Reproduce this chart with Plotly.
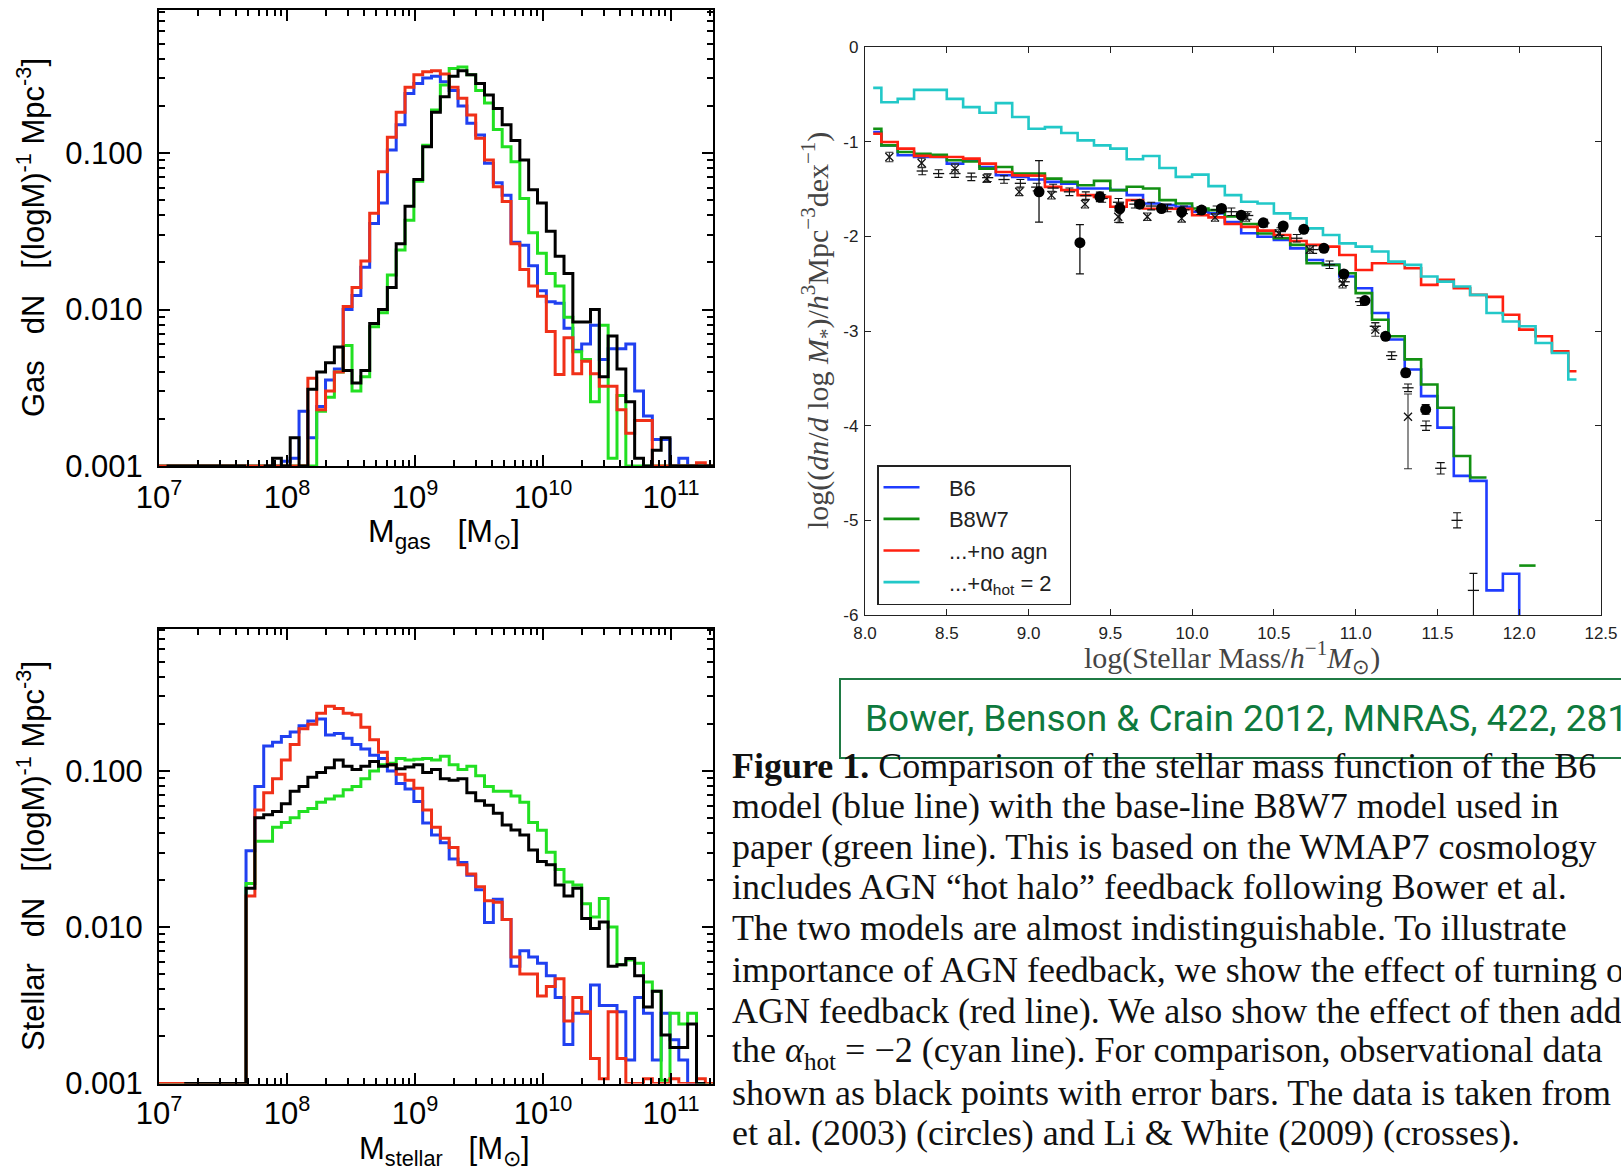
import plotly.graph_objects as go

W, H = 1621, 1175

# ---------------- Left panels: histograms, values are log10(dN) ----------------
BIN0 = 6.99      # log10 M of the first bin edge
BINW = 0.069     # bin width in dex

gas_blue = [
    -3, -3, -3, -3, -3, -3, -3, -3,
    -3, -3, -3, -3, -3, -3, -2.97, -2.95,
    -2.65, -2.82, -2.62, -2.45, -2.38, -2.0, -1.91, -1.73,
    -1.45, -1.32, -0.98, -0.82, -0.62, -0.555, -0.52, -0.51,
    -0.545, -0.60, -0.70, -0.81, -0.885, -1.066, -1.19, -1.27,
    -1.57, -1.59, -1.72, -1.88, -1.95, -1.96, -2.12, -2.26,
    -2.22, -2.1, -2.32, -2.25, -2.25, -2.22, -2.52, -2.68,
    -2.83, -2.83, -3, -2.95, -3, -3, -3, -3]
gas_green = [
    -3, -3, -3, -3, -3, -3, -3, -3,
    -3, -3, -3, -3, -3, -3, -3, -3,
    -3, -3, -2.65, -2.56, -2.40, -2.23, -2.52, -2.43,
    -2.11, -2.02, -1.78, -1.62, -1.43, -1.18, -0.95, -0.725,
    -0.565, -0.46, -0.45, -0.50, -0.60, -0.68, -0.85, -0.96,
    -1.055, -1.29, -1.51, -1.64, -1.77, -1.85, -2.05, -2.27,
    -2.32, -2.59, -2.1, -2.95, -2.55, -3, -3, -3,
    -3, -3, -3, -3, -3, -3, -3, -3]
gas_red = [
    -3, -3, -3, -3, -3, -3, -3, -3,
    -3, -3, -3, -3, -3, -3, -3, -3,
    -3, -2.44, -2.64, -2.52, -2.40, -1.98, -1.86, -1.69,
    -1.385, -1.12, -0.90, -0.74, -0.58, -0.50, -0.48, -0.474,
    -0.495, -0.58, -0.65, -0.757, -0.906, -1.045, -1.215, -1.31,
    -1.58, -1.745, -1.85, -1.915, -2.14, -2.415, -2.18, -2.41,
    -2.33, -2.41, -2.49, -2.49, -2.64, -2.79, -2.71, -2.71,
    -3, -3, -3, -3, -3, -2.98, -3, -3]
gas_black = [
    None, -3, -3, -3, -3, -3, -3, -3,
    -3, -3, None, None, -3, -2.95, -3, -2.82,
    -3, -2.51, -2.40, -2.34, -2.24, -2.39, -2.47, -2.39,
    -2.09, -2.0, -1.86, -1.58, -1.34, -1.17, -0.96, -0.74,
    -0.64, -0.51, -0.474, -0.50, -0.555, -0.63, -0.715, -0.82,
    -0.92, -1.045, -1.235, -1.32, -1.50, -1.66, -1.77, -2.08,
    -2.08, -2.0, -2.43, -2.17, -2.38, -2.59, -2.95, -3,
    -2.9, -2.82, -3, -3, -3, -3, -3, -3]

star_blue = [
    -3, -3, -3, -3, -3, -3, -3, -3,
    -3, -3, -1.51, -1.10, -0.84, -0.816, -0.78, -0.75,
    -0.71, -0.68, -0.667, -0.77, -0.76, -0.79, -0.83, -0.86,
    -0.90, -0.92, -1.0, -1.08, -1.115, -1.195, -1.333, -1.41,
    -1.46, -1.563, -1.586, -1.667, -1.76, -1.97, -1.82, -1.95,
    -2.25, -2.15, -2.19, -2.23, -2.31, -2.45, -2.75, -2.55,
    -2.55, -2.37, -2.50, -2.50, -2.54, -2.85, -2.45, -2.55,
    -2.85, -2.55, -2.72, -2.85, -3, -3, None, None]
star_green = [
    -3, -3, -3, -3, -3, -3, -3, -3,
    -3, -3, -1.72, -1.45, -1.45, -1.36, -1.33, -1.30,
    -1.26, -1.24, -1.20, -1.18, -1.16, -1.12, -1.10, -1.05,
    -1.0, -0.96, -0.95, -0.92, -0.93, -0.925, -0.92, -0.93,
    -0.905, -0.96, -0.99, -0.97, -1.03, -1.10, -1.13, -1.13,
    -1.16, -1.20, -1.33, -1.38, -1.52, -1.63, -1.71, -1.73,
    -1.85, -1.935, -1.816, -1.998, -2.24, -2.21, -2.23, -2.35,
    -2.41, -2.98, -2.55, -2.62, -2.55, -3, -3, None]
star_red = [
    -3, -3, -3, -3, -3, -3, -3, -3,
    -3, -3, -1.8, -1.25, -1.14, -1.05, -0.93, -0.83,
    -0.73, -0.70, -0.63, -0.585, -0.60, -0.63, -0.64, -0.72,
    -0.80, -0.88, -0.96, -1.02, -1.06, -1.11, -1.25, -1.36,
    -1.43, -1.49, -1.6, -1.66, -1.74, -1.83, -1.84, -1.95,
    -2.19, -2.30, -2.30, -2.44, -2.38, -2.33, -2.60, -2.45,
    -2.54, -2.84, -2.97, -2.54, -2.84, -3, -3, -2.97,
    -3, -3, -2.97, -3, -3, -2.97, -3, -3]
star_black = [
    None, None, None, -3, -3, -3, -3, -3,
    -3, -3, -1.75, -1.30, -1.28, -1.26, -1.21, -1.13,
    -1.10, -1.04, -1.01, -0.98, -0.93, -0.97, -0.99, -0.97,
    -0.94, -0.97, -0.96, -0.985, -0.975, -0.96, -1.01, -0.99,
    -1.05, -1.06, -1.05, -1.14, -1.19, -1.22, -1.27, -1.346,
    -1.378, -1.41, -1.506, -1.58, -1.60, -1.73, -1.80, -1.75,
    -1.944, -2.008, -1.966, -2.25, -2.24, -2.2, -2.31, -2.51,
    -2.41, -2.69, -2.77, -2.77, -2.62, -3, None, None]

# ---------------- Right panel: stellar mass function ----------------
SMF0 = 8.0
SMFW = 0.1
smf_mass = [8.05, 8.15, 8.25, 8.35, 8.45, 8.55, 8.65, 8.75, 8.85, 8.95,
            9.05, 9.15, 9.25, 9.35, 9.45, 9.55, 9.65, 9.75, 9.85, 9.95,
            10.05, 10.15, 10.25, 10.35, 10.45, 10.55, 10.65, 10.75, 10.85, 10.95,
            11.05, 11.15, 11.25, 11.35, 11.45, 11.55, 11.65, 11.75, 11.85, 11.95,
            12.05, 12.15, 12.25, 12.35]
smf_b6 = [-0.898, -1.039, -1.144, -1.162, -1.16, -1.232, -1.197, -1.267, -1.355, -1.372,
          -1.40, -1.425, -1.443, -1.495, -1.495, -1.512, -1.565, -1.653, -1.67, -1.688,
          -1.741, -1.758, -1.85, -1.968, -2.004, -2.039, -2.127, -2.25, -2.302, -2.425,
          -2.548, -2.81, -3.09, -3.407, -3.688, -4.021, -4.53, -4.583, -5.74, -5.565,
          -6.3, None, None, None]
smf_b8w7 = [-0.863, -1.039, -1.109, -1.127, -1.14, -1.197, -1.21, -1.285, -1.267, -1.337,
            -1.337, -1.39, -1.425, -1.46, -1.414, -1.512, -1.477, -1.495, -1.618, -1.653,
            -1.706, -1.723, -1.79, -1.87, -1.97, -2.02, -2.09, -2.285, -2.302, -2.39,
            -2.6, -2.881, -3.056, -3.3, -3.565, -3.81, -4.32, -4.548, None, None,
            -5.478, None, None, None]
smf_noagn = [-0.916, -1.004, -1.074, -1.15, -1.16, -1.162, -1.179, -1.232, -1.32, -1.355,
             -1.36, -1.478, -1.512, -1.565, -1.583, -1.688, -1.618, -1.706, -1.706, -1.71,
             -1.776, -1.80, -1.87, -1.90, -1.94, -1.986, -2.05, -2.09, -2.109, -2.197,
             -2.355, -2.285, -2.285, -2.337, -2.513, -2.46, -2.548, -2.618, -2.64, -2.828,
             -2.986, -3.056, -3.215, -3.425]
smf_ahot = [-0.432, -0.583, -0.548, -0.453, -0.453, -0.548, -0.635, -0.695, -0.593, -0.74,
            -0.863, -0.846, -0.909, -0.986, -1.039, -1.074, -1.186, -1.151, -1.278, -1.372,
            -1.348, -1.47, -1.565, -1.635, -1.653, -1.758, -1.81, -1.916, -1.986, -2.074,
            -2.109, -2.16, -2.267, -2.302, -2.425, -2.478, -2.53, -2.618, -2.81, -2.9,
            -2.95, -3.127, -3.232, -3.513]

# observations
bell_mass = [9.064, 9.314, 9.436, 9.558, 9.68, 9.813, 9.936, 10.058, 10.18, 10.30,
             10.435, 10.557, 10.683, 10.806, 10.928, 11.057, 11.183, 11.306, 11.428]
bell_phi = [-1.53, -2.067, -1.583, -1.706, -1.66, -1.706, -1.741, -1.723, -1.706, -1.776,
            -1.857, -1.891, -1.926, -2.127, -2.397, -2.678, -3.056, -3.442, -3.828]
bell_err_up = [0.33, 0.19, 0.05, 0.05, 0.04, 0.03, 0.03, 0.03, 0.03, 0.03,
               0.03, 0.03, 0.03, 0.03, 0.03, 0.03, 0.03, 0.04, 0.05]
bell_err_dn = [0.32, 0.33, 0.05, 0.15, 0.04, 0.03, 0.03, 0.03, 0.03, 0.03,
               0.03, 0.03, 0.03, 0.03, 0.03, 0.03, 0.03, 0.04, 0.05]

li_mass = [8.149, 8.346, 8.55, 8.744, 8.943, 9.14, 9.345, 9.548, 9.726, 9.936,
           10.14, 10.33, 10.53, 10.72, 10.92, 11.12, 11.32]
li_phi = [-1.162, -1.225, -1.285, -1.39, -1.53, -1.565, -1.66, -1.793, -1.793, -1.81,
          -1.80, -1.80, -1.97, -2.14, -2.495, -2.986, -3.905]
li_err_up = [0.05, 0.05, 0.05, 0.04, 0.04, 0.04, 0.04, 0.06, 0.04, 0.04,
             0.04, 0.04, 0.04, 0.04, 0.05, 0.07, 0.24]
li_err_dn = [0.05, 0.05, 0.05, 0.04, 0.04, 0.04, 0.04, 0.06, 0.04, 0.04,
             0.04, 0.04, 0.04, 0.04, 0.05, 0.07, 0.55]

cole_mass = [8.35, 8.45, 8.55, 8.65, 8.75, 8.85, 8.95, 9.05, 9.15, 9.25,
             9.35, 9.45, 9.55, 9.65, 9.75, 9.85, 9.95, 10.05, 10.15, 10.24,
             10.34, 10.44, 10.54, 10.64, 10.74, 10.84, 10.93, 11.03, 11.12, 11.22,
             11.32, 11.43, 11.52, 11.62, 11.72]
cole_phi = [-1.31, -1.337, -1.337, -1.372, -1.38, -1.40, -1.44, -1.48, -1.49, -1.53,
            -1.57, -1.60, -1.64, -1.66, -1.68, -1.70, -1.72, -1.73, -1.72, -1.74,
            -1.78, -1.86, -1.95, -2.02, -2.14, -2.30, -2.48, -2.69, -2.95, -3.26,
            -3.60, -4.00, -4.45, -5.00, -5.74]
cole_err_up = [0.04] * 31 + [0.05, 0.06, 0.08, 0.18]
cole_err_dn = [0.04] * 31 + [0.05, 0.06, 0.08, 0.60]

x_dec_vals = [1e7, 1e8, 1e9, 1e10, 1e11]
x_dec_text = ["10<sup>7</sup>", "10<sup>8</sup>", "10<sup>9</sup>", "10<sup>10</sup>", "10<sup>11</sup>"]
y_dec_vals = [0.001, 0.01, 0.1]
y_dec_text = ["0.001", "0.010", "0.100"]
smf_xticks = [8.0, 8.5, 9.0, 9.5, 10.0, 10.5, 11.0, 11.5, 12.0, 12.5]
smf_yticks = [0, -1, -2, -3, -4, -5, -6]

caption_lines = [
    "<b>Figure 1.</b> Comparison of the stellar mass function of the B6",
    "model (blue line) with the base-line B8W7 model used in",
    "paper (green line). This is based on the WMAP7 cosmology",
    "includes AGN \u201chot halo\u201d feedback following Bower et al.",
    "The two models are almost indistinguishable. To illustrate",
    "importance of AGN feedback, we show the effect of turning off",
    "AGN feedback (red line). We also show the effect of then adding",
    "the <i>\u03b1</i><sub>hot</sub> = \u22122 (cyan line). For comparison, observational data",
    "shown as black points with error bars. The data is taken from",
    "et al. (2003) (circles) and Li &amp; White (2009) (crosses).",
]
citation = "Bower, Benson &amp; Crain 2012, MNRAS, 422, 2816"


# ---------------- helpers ----------------
def steps(x0, w, vals, lo=None, hi=None):
    xs, ys = [], []
    for i, v in enumerate(vals):
        if v is None:
            if xs and xs[-1] is not None:
                xs.append(None)
                ys.append(None)
            continue
        a, b = x0 + i * w, x0 + (i + 1) * w
        if lo is not None:
            a = max(a, lo)
        if hi is not None:
            b = min(b, hi)
        xs += [a, b]
        ys += [v, v]
    return xs, ys


def pow10(seq):
    return [None if s is None else 10 ** s for s in seq]


SANS = "Liberation Sans, Arial, Helvetica, sans-serif"
SERIF = "Liberation Serif, Times New Roman, serif"

fig = go.Figure()

L_COLORS = {"blue": "#2040f0", "green": "#22e022", "red": "#f03018", "black": "#000000"}
for axn, series in (("", [gas_blue, gas_green, gas_red, gas_black]),
                    ("2", [star_blue, star_green, star_red, star_black])):
    for vals, col in zip(series, ["blue", "green", "red", "black"]):
        xs, ys = steps(BIN0, BINW, vals)
        fig.add_trace(go.Scatter(
            x=pow10(xs), y=pow10(ys), mode="lines",
            line=dict(color=L_COLORS[col], width=3),
            xaxis="x" + axn, yaxis="y" + axn, showlegend=False, hoverinfo="skip"))

pad = "\u00a0\u00a0\u00a0\u00a0"
R_SERIES = [("B6", smf_b6, "#1f3cff"), ("B8W7", smf_b8w7, "#129012"),
            ("...+no agn", smf_noagn, "#ff2010"),
            ("...+\u03b1<sub>hot</sub> = 2\u00a0\u00a0", smf_ahot, "#22c8c8")]
for name, vals, col in R_SERIES:
    xs, ys = steps(SMF0, SMFW, vals, lo=smf_mass[0], hi=smf_mass[-1])
    fig.add_trace(go.Scatter(
        x=xs, y=ys, mode="lines", line=dict(color=col, width=2.6),
        name=pad + name, legendgroup=name, xaxis="x3", yaxis="y3", hoverinfo="skip"))

fig.add_trace(go.Scatter(
    x=cole_mass, y=cole_phi, mode="markers",
    marker=dict(symbol="line-ew", size=8, color="#111", line=dict(color="#111", width=1.3)),
    error_y=dict(type="data", symmetric=False, array=cole_err_up, arrayminus=cole_err_dn,
                 color="#111", thickness=1.1, width=4),
    xaxis="x3", yaxis="y3", showlegend=False, hoverinfo="skip"))
fig.add_trace(go.Scatter(
    x=li_mass, y=li_phi, mode="markers",
    marker=dict(symbol="x-thin", size=8, color="#111", line=dict(color="#111", width=1.3)),
    error_y=dict(type="data", symmetric=False, array=li_err_up, arrayminus=li_err_dn,
                 color="#333", thickness=1.1, width=4),
    xaxis="x3", yaxis="y3", showlegend=False, hoverinfo="skip"))
fig.add_trace(go.Scatter(
    x=bell_mass, y=bell_phi, mode="markers",
    marker=dict(symbol="circle", size=11, color="#000"),
    error_y=dict(type="data", symmetric=False, array=bell_err_up, arrayminus=bell_err_dn,
                 color="#111", thickness=1.3, width=4),
    xaxis="x3", yaxis="y3", showlegend=False, hoverinfo="skip"))

x_minor = [m * 10 ** e for e in range(7, 12) for m in range(2, 10)]
y_minor = [m * 10 ** e for e in range(-3, 0) for m in range(2, 10)]


def left_x(domain_anchor, standoff):
    return dict(type="log", range=[7, 11.328], domain=[159 / W, 713 / W], anchor=domain_anchor,
                automargin=False,
                showline=True, linecolor="black", linewidth=2, mirror="ticks",
                ticks="inside", ticklen=11, tickwidth=2, tickcolor="black",
                tickvals=x_dec_vals, ticktext=x_dec_text, ticklabelstandoff=standoff,
                tickfont=dict(family=SANS, size=31, color="black"),
                minor=dict(ticks="inside", ticklen=6, tickwidth=1.5, tickcolor="black",
                           tickvals=x_minor, showgrid=False),
                showgrid=False, zeroline=False)


def left_y(dom, anchor):
    return dict(type="log", range=[-3, -0.088], domain=dom, anchor=anchor,
                automargin=False,
                showline=True, linecolor="black", linewidth=2, mirror="ticks",
                ticks="inside", ticklen=11, tickwidth=2, tickcolor="black",
                tickvals=y_dec_vals, ticktext=y_dec_text, ticklabelstandoff=8,
                tickfont=dict(family=SANS, size=31, color="black"),
                minor=dict(ticks="inside", ticklen=6, tickwidth=1.5, tickcolor="black",
                           tickvals=y_minor, showgrid=False),
                showgrid=False, zeroline=False)


fig.update_layout(
    width=W, height=H, margin=dict(l=0, r=0, t=0, b=0, autoexpand=False),
    paper_bgcolor="white", plot_bgcolor="white",
    font=dict(family=SANS, color="black"),
    xaxis=left_x("y", 3),
    yaxis=left_y([1 - 466 / H, 1 - 10.3 / H], "x"),
    xaxis2=left_x("y2", 1),
    yaxis2=left_y([1 - 1083.5 / H, 1 - 628.5 / H], "x2"),
    xaxis3=dict(range=[8, 12.5], domain=[865 / W, 1601 / W], anchor="y3", automargin=False,
                showline=True, linecolor="#222", linewidth=1.3, mirror="ticks",
                ticks="inside", ticklen=6, tickwidth=1, tickcolor="#222",
                tickvals=smf_xticks, ticktext=["%.1f" % v for v in smf_xticks],
                tickfont=dict(family=SANS, size=17, color="#222"), ticklabelstandoff=2,
                showgrid=False, zeroline=False),
    yaxis3=dict(range=[-6, 0], domain=[1 - 615 / H, 1 - 47 / H], anchor="x3", automargin=False,
                showline=True, linecolor="#222", linewidth=1.3, mirror="ticks",
                ticks="inside", ticklen=6, tickwidth=1, tickcolor="#222",
                tickvals=smf_yticks, ticktext=["%d" % v for v in smf_yticks],
                tickfont=dict(family=SANS, size=17, color="#222"), ticklabelstandoff=2,
                showgrid=False, zeroline=False),
    legend=dict(x=877 / W, y=1 - 465 / H, xanchor="left", yanchor="top",
                bgcolor="white", bordercolor="#222", borderwidth=1.5,
                font=dict(family=SANS, size=22, color="#222"),
                tracegroupgap=3, itemwidth=36, traceorder="normal"),
    showlegend=True,
)

ann = []
nb = "\u00a0\u00a0\u00a0"
ann.append(dict(text="Gas" + nb + "dN" + nb + "[(logM)<sup>-1</sup> Mpc<sup>-3</sup>]",
                x=31 / W, y=1 - 238 / H, textangle=-90,
                font=dict(family=SANS, size=31, color="black")))
ann.append(dict(text="Stellar" + nb + "dN" + nb + "[(logM)<sup>-1</sup> Mpc<sup>-3</sup>]",
                x=31 / W, y=1 - 856 / H, textangle=-90,
                font=dict(family=SANS, size=31, color="black")))
ann.append(dict(text="M<sub>gas</sub>" + nb + "[M<sub>\u2299</sub>]",
                x=444 / W, y=1 - 533 / H, font=dict(family=SANS, size=32, color="black")))
ann.append(dict(text="M<sub>stellar</sub>" + nb + "[M<sub>\u2299</sub>]",
                x=444 / W, y=1 - 1151 / H, font=dict(family=SANS, size=31, color="black")))
ann.append(dict(text="log((<i>dn</i>/<i>d</i> log <i>M</i><sub>*</sub>)/<i>h</i><sup>3</sup>Mpc<sup>\u22123</sup>dex<sup>\u22121</sup>)",
                x=817 / W, y=1 - 331 / H, textangle=-90,
                font=dict(family=SERIF, size=30, color="#444")))
ann.append(dict(text="log(Stellar Mass/<i>h</i><sup>\u22121</sup><i>M</i><sub>\u2299</sub>)",
                x=1232 / W, y=1 - 657 / H, font=dict(family=SERIF, size=30, color="#444")))
ann.append(dict(text=citation, x=863 / W, y=1 - 718 / H, xanchor="left",
                font=dict(family="Roboto, Liberation Sans, sans-serif",
                          size=37, color="#0e7a3e")))
cap_y = [766, 806, 847, 887, 928, 970, 1011, 1052, 1093, 1133]
for line, yy in zip(caption_lines, cap_y):
    ann.append(dict(text=line, x=730 / W, y=1 - yy / H, xanchor="left",
                    font=dict(family=SERIF, size=36, color="#111")))
for a in ann:
    a.setdefault("xref", "paper")
    a.setdefault("yref", "paper")
    a.setdefault("showarrow", False)
    a.setdefault("xanchor", "center")
    a.setdefault("yanchor", "middle")
fig.update_layout(annotations=ann)

fig.add_shape(type="rect", xref="paper", yref="paper",
              x0=840 / W, x1=1.003, y0=1 - 758 / H, y1=1 - 679 / H,
              line=dict(color="#1f7a44", width=2), fillcolor="rgba(0,0,0,0)", layer="below")

fig.write_html("out.html")
